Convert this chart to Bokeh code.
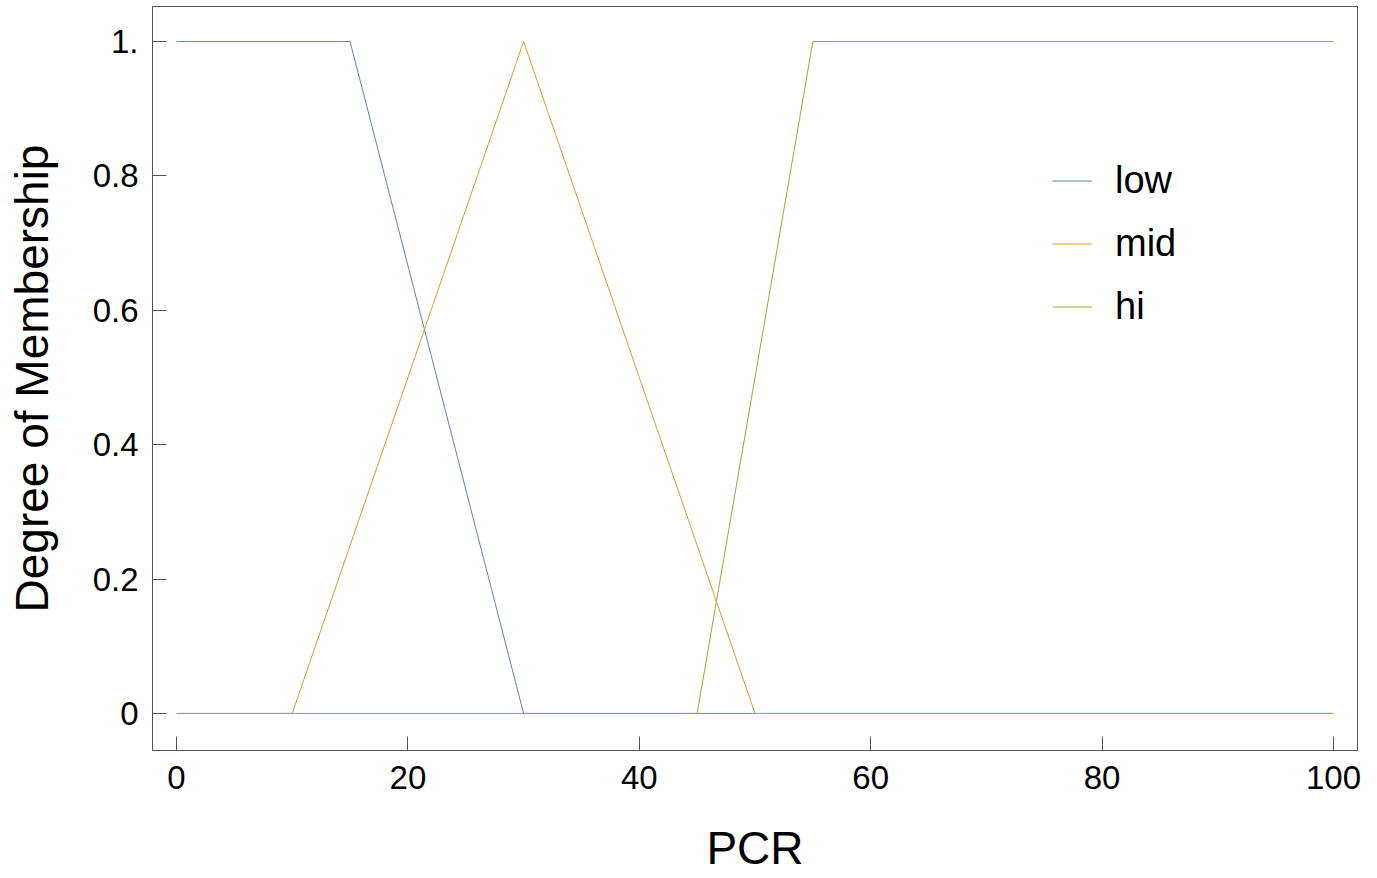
from bokeh.plotting import figure
from bokeh.models import Range1d, FixedTicker, CustomJSTickFormatter, Legend, LegendItem
from bokeh.embed import file_html
from bokeh.resources import INLINE

# Data (membership functions of PCR)
x_low = [0, 15, 30, 100]
y_low = [1, 1, 0, 0]
x_mid = [0, 10, 30, 50, 100]
y_mid = [0, 0, 1, 0, 0]
x_hi = [0, 45, 55, 100]
y_hi = [0, 0, 1, 1]
series_names = ["low", "mid", "hi"]
x_ticks = [0, 20, 40, 60, 80, 100]
y_ticks = [0, 0.2, 0.4, 0.6, 0.8, 1.0]
x_title = "PCR"
y_title = "Degree of Membership"

colors = ["#5E81B5", "#E19C24", "#8FB032"]
FONT = "Liberation Sans"
FRAME = "#555555"

p = figure(width=1369, height=876,
           x_range=Range1d(-2.076, 102.076), y_range=Range1d(-0.0552, 1.0522),
           output_backend="svg", toolbar_location=None,
           min_border_left=152, min_border_right=12,
           min_border_top=6, min_border_bottom=126)

p.xgrid.visible = False
p.ygrid.visible = False
p.outline_line_color = FRAME
p.outline_line_width = 1
p.background_fill_color = "white"
p.border_fill_color = "white"

r_low = p.line(x_low, y_low, line_color=colors[0], line_width=1)
r_mid = p.line(x_mid, y_mid, line_color=colors[1], line_width=1)
r_hi = p.line(x_hi, y_hi, line_color=colors[2], line_width=1)

for ax in (p.xaxis[0], p.yaxis[0]):
    ax.axis_line_color = FRAME
    ax.major_tick_line_color = FRAME
    ax.major_tick_in = 14
    ax.major_tick_out = 0
    ax.minor_tick_line_color = None
    ax.major_label_text_font = FONT
    ax.major_label_text_font_size = "33px"
    ax.major_label_text_color = "black"
    ax.axis_label_text_font = FONT
    ax.axis_label_text_font_size = "46px"
    ax.axis_label_text_font_style = "normal"
    ax.axis_label_text_color = "black"

p.xaxis.ticker = FixedTicker(ticks=x_ticks)
p.yaxis.ticker = FixedTicker(ticks=y_ticks)
p.yaxis.formatter = CustomJSTickFormatter(
    code="if (tick == 1) {return '1.';} if (tick == 0) {return '0';} return tick.toFixed(1);")

p.xaxis.axis_label = x_title
p.yaxis.axis_label = y_title
p.xaxis.major_label_standoff = 15
p.xaxis.axis_label_standoff = 30
p.yaxis.major_label_standoff = 14
p.yaxis.axis_label_standoff = 32

legend = Legend(items=[LegendItem(label=series_names[0], renderers=[r_low]),
                       LegendItem(label=series_names[1], renderers=[r_mid]),
                       LegendItem(label=series_names[2], renderers=[r_hi])],
                location=(900, 412))
legend.border_line_alpha = 0
legend.background_fill_alpha = 0
legend.padding = 0
legend.margin = 0
legend.spacing = 0
legend.glyph_width = 40
legend.glyph_height = 63
legend.label_height = 63
legend.label_standoff = 23
legend.label_text_font = FONT
legend.label_text_font_size = "38px"
legend.label_text_color = "black"
p.add_layout(legend)

open("out.html", "w").write(file_html(p, INLINE))
